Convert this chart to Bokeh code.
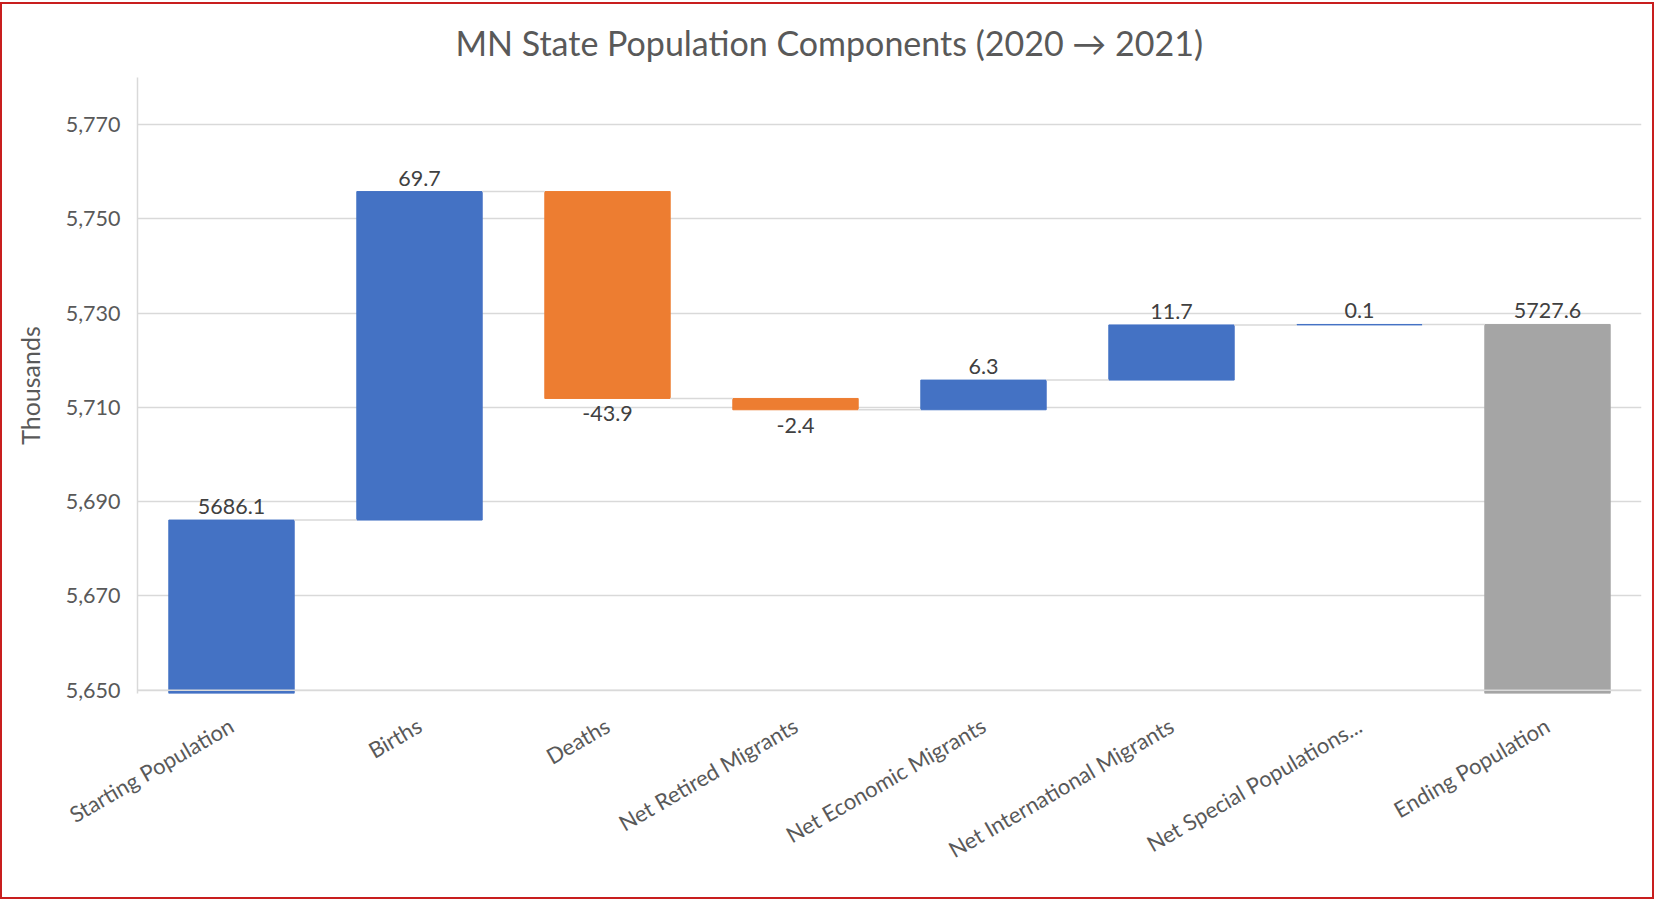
import math
from bokeh.plotting import figure
from bokeh.models import (ColumnDataSource, FixedTicker, NumeralTickFormatter,
                          Span, Range1d, FactorRange)
from bokeh.transform import dodge
from bokeh.embed import file_html
from bokeh.resources import INLINE
from bokeh.core.properties import value

# ---------------- data ----------------
categories = ["Starting Population", "Births", "Deaths", "Net Retired Migrants",
              "Net Economic Migrants", "Net International Migrants",
              "Net Special Populations...", "Ending Population"]
values = [5686.1, 69.7, -43.9, -2.4, 6.3, 11.7, 0.1, 5727.6]
kinds = ["change", "change", "change", "change", "change", "change", "change", "total"]
label_texts = ["5686.1", "69.7", "-43.9", "-2.4", "6.3", "11.7", "0.1", "5727.6"]
y_ticks = [5650, 5670, 5690, 5710, 5730, 5750, 5770]
y_min, y_max = 5650, 5780
title_text = "MN State Population Components (2020 \u2192 2021)"

COL_UP = "#4472C4"
COL_DOWN = "#ED7D31"
COL_TOTAL = "#A5A5A5"
GRID = "#D9D9D9"
TXT = "#595959"
FONT = "Lato"

# ---------------- waterfall geometry from data ----------------
bottoms, tops, colors, levels = [], [], [], []
running = 0.0
for v, k in zip(values, kinds):
    if k == "total":
        b, t = 0.0, v
        running = v
        c = COL_TOTAL
    else:
        b = running
        running = running + v
        t = running
        c = COL_UP if v >= 0 else COL_DOWN
    bottoms.append(min(b, t))
    tops.append(max(b, t))
    colors.append(c)
    levels.append(round(running, 4))

bars = ColumnDataSource(dict(cat=categories, bottom=bottoms, top=tops, color=colors))
conn = ColumnDataSource(dict(c0=categories[:-1], c1=categories[1:], lvl=levels[:-1]))

up_idx = [i for i, v in enumerate(values) if v >= 0]
dn_idx = [i for i, v in enumerate(values) if v < 0]
lab_up = ColumnDataSource(dict(cat=[categories[i] for i in up_idx],
                               y=[tops[i] for i in up_idx],
                               t=[label_texts[i] for i in up_idx]))
lab_dn = ColumnDataSource(dict(cat=[categories[i] for i in dn_idx],
                               y=[bottoms[i] for i in dn_idx],
                               t=[label_texts[i] for i in dn_idx]))

# ---------------- figure ----------------
W, H = 1654, 897
p = figure(x_range=FactorRange(*categories),
           y_range=Range1d(y_min - 0.7, y_max),
           width=W, height=H, output_backend="svg", toolbar_location=None,
           tools="", min_border_left=135, min_border_right=15,
           min_border_top=67, min_border_bottom=208)
p.x_range.factor_padding = 0
p.x_range.range_padding = 0
p.outline_line_color = None
p.background_fill_color = "white"
p.border_fill_color = "white"
p.styles = {"border": "2px solid #c81e1e", "margin-top": "2px"}

p.title.text = title_text
p.title.align = "left"
p.title.offset = 318
p.title.vertical_align = "bottom"
p.title.standoff = 30
p.title.text_font = FONT
p.title.text_font_style = "normal"
p.title.text_font_size = "34px"
p.title.text_color = TXT

BAR_W = 0.667
p.vbar(x="cat", bottom="bottom", top="top", width=BAR_W, source=bars,
       fill_color="color", line_color="color", line_width=1)

p.segment(x0=dodge("c0", BAR_W / 2, range=p.x_range), y0="lvl",
          x1=dodge("c1", -BAR_W / 2, range=p.x_range), y1="lvl",
          source=conn, line_color=GRID, line_width=1.5)

p.text(x="cat", y="y", text="t", source=lab_up, text_align="center",
       text_baseline="bottom", y_offset=-6, text_font=value(FONT),
       text_font_size="21.5px", text_color="#404040")
p.text(x="cat", y="y", text="t", source=lab_dn, text_align="center",
       text_baseline="top", y_offset=8, text_font=value(FONT),
       text_font_size="21.5px", text_color="#404040")

p.add_layout(Span(location=y_min, dimension="width", line_color=GRID,
                  line_width=1.5, level="overlay"))

# axes
p.yaxis.ticker = FixedTicker(ticks=y_ticks)
p.yaxis.formatter = NumeralTickFormatter(format="0,0")
p.yaxis.major_tick_line_color = None
p.yaxis.minor_tick_line_color = None
p.yaxis.major_tick_out = 0
p.yaxis.axis_line_color = GRID
p.yaxis.axis_line_width = 1.5
p.yaxis.major_label_text_font = FONT
p.yaxis.major_label_text_font_size = "21.5px"
p.yaxis.major_label_text_color = TXT
p.yaxis.major_label_standoff = 17
p.yaxis.axis_label = "Thousands"
p.yaxis.axis_label_text_font = FONT
p.yaxis.axis_label_text_font_style = "normal"
p.yaxis.axis_label_text_font_size = "25px"
p.yaxis.axis_label_text_color = TXT
p.yaxis.axis_label_standoff = 18

p.xaxis.axis_line_color = None
p.xaxis.major_tick_line_color = None
p.xaxis.minor_tick_line_color = None
p.xaxis.major_tick_out = 0
p.xaxis.major_label_orientation = math.pi / 6
p.xaxis.major_label_text_font = FONT
p.xaxis.major_label_text_font_size = "22px"
p.xaxis.major_label_text_color = TXT
p.xaxis.major_label_standoff = 30

p.xgrid.grid_line_color = None
p.ygrid.grid_line_color = GRID
p.ygrid.grid_line_width = 1.5

open("out.html", "w").write(file_html(p, INLINE))
